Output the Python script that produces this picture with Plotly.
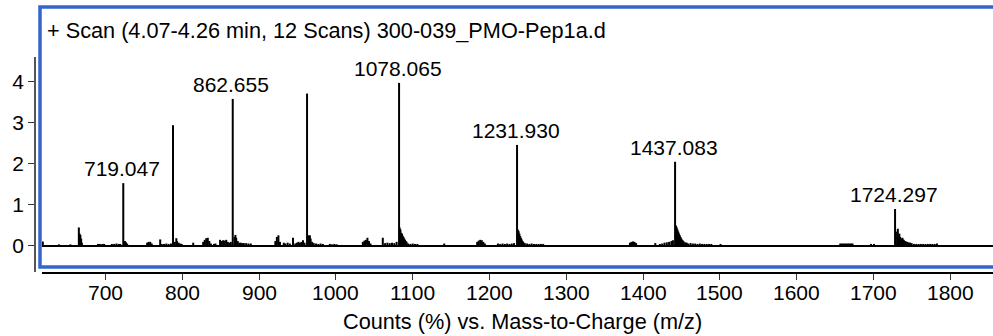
import plotly.graph_objects as go

# ---- data ----
major_mz = [722.9, 787.7, 865.5, 962.3, 1082.2, 1235.9, 1441.8, 1728.4]
major_int = [1.53, 2.94, 3.58, 3.71, 3.97, 2.46, 2.05, 0.90]

label_mz = [722.9, 865.5, 1082.2, 1235.9, 1441.8, 1728.4]
label_int = [1.53, 3.58, 3.97, 2.46, 2.05, 0.90]
label_text = ["719.047", "862.655", "1078.065", "1231.930", "1437.083", "1724.297"]

minor_mz = [
    618, 639, 654, 665, 666, 667, 668, 669,
    690, 692, 694, 696, 698, 708, 711, 714, 717, 719,
    725, 726, 727, 728, 754, 756, 758, 760, 771,
    773, 776, 779, 782, 785, 790, 792, 793, 795, 797, 799, 814,
    827, 829, 831, 833, 835, 837, 841, 843,
    849, 851, 853, 855, 857, 859, 861, 863,
    868, 869, 870, 872, 874, 876, 878, 880, 883, 886, 889,
    921, 923, 925, 927, 932, 934, 937, 940, 944,
    947, 949, 951, 953, 955, 957, 959,
    964, 965, 966, 967, 969, 971, 974, 977, 980, 983,
    992, 995, 998, 1001,
    1035, 1037, 1039, 1041, 1043, 1045, 1061,
    1064, 1067, 1070, 1073, 1076, 1079,
    1083, 1084, 1085, 1086, 1087, 1088, 1089, 1090, 1091, 1092,
    1094, 1097, 1100, 1103, 1106, 1141,
    1184, 1186, 1188, 1190, 1192, 1194,
    1211, 1214, 1217, 1220, 1223, 1226, 1229, 1232,
    1237, 1238, 1239, 1240, 1241, 1242, 1243, 1244,
    1246, 1249, 1252, 1255, 1258, 1261, 1264, 1267, 1270,
    1383, 1385, 1387, 1389, 1391, 1416,
    1422, 1425, 1428, 1431, 1434, 1437, 1439,
    1443, 1444, 1445, 1446, 1447, 1448, 1449, 1450, 1451, 1452, 1453, 1455, 1457,
    1459, 1462, 1465, 1468, 1471, 1474, 1477, 1480, 1483, 1486, 1489, 1501,
    1657, 1659, 1661, 1663, 1665, 1667, 1669, 1671, 1673, 1697, 1701,
    1731, 1732, 1733, 1734, 1735, 1737, 1738, 1739, 1740, 1742, 1744, 1746, 1748, 1750,
    1753, 1756, 1759, 1762, 1765, 1768, 1771, 1774, 1777, 1780, 1783,
]
minor_int = [
    0.11, 0.04, 0.04, 0.45, 0.30, 0.27, 0.18, 0.08,
    0.05, 0.05, 0.04, 0.05, 0.05, 0.05, 0.05, 0.06, 0.05, 0.05,
    0.12, 0.10, 0.07, 0.05, 0.08, 0.10, 0.10, 0.06, 0.16,
    0.05, 0.05, 0.06, 0.05, 0.06, 0.10, 0.19, 0.12, 0.08, 0.06, 0.05, 0.08,
    0.10, 0.15, 0.19, 0.20, 0.12, 0.06, 0.05, 0.06,
    0.15, 0.12, 0.14, 0.13, 0.15, 0.10, 0.08, 0.10,
    0.22, 0.27, 0.20, 0.12, 0.08, 0.08, 0.07, 0.07, 0.07, 0.06, 0.06,
    0.12, 0.22, 0.26, 0.10, 0.08, 0.06, 0.08, 0.06, 0.20,
    0.06, 0.08, 0.10, 0.08, 0.10, 0.14, 0.08,
    0.26, 0.24, 0.26, 0.18, 0.10, 0.07, 0.06, 0.05, 0.06, 0.05,
    0.05, 0.04, 0.05, 0.04,
    0.10, 0.13, 0.15, 0.20, 0.12, 0.06, 0.20,
    0.07, 0.08, 0.07, 0.08, 0.07, 0.10,
    0.45, 0.40, 0.32, 0.30, 0.25, 0.22, 0.18, 0.15, 0.12, 0.10,
    0.06, 0.05, 0.06, 0.05, 0.05, 0.06,
    0.10, 0.13, 0.15, 0.14, 0.10, 0.06,
    0.06, 0.05, 0.06, 0.05, 0.06, 0.05, 0.06, 0.07,
    0.40, 0.36, 0.30, 0.24, 0.20, 0.16, 0.12, 0.10,
    0.07, 0.06, 0.05, 0.06, 0.05, 0.05, 0.05, 0.05, 0.05,
    0.08, 0.10, 0.11, 0.10, 0.07, 0.07,
    0.05, 0.06, 0.08, 0.09, 0.10, 0.12, 0.14,
    0.50, 0.45, 0.40, 0.35, 0.30, 0.26, 0.22, 0.18, 0.15, 0.13, 0.11, 0.09, 0.08,
    0.06, 0.07, 0.06, 0.06, 0.05, 0.06, 0.05, 0.05, 0.05, 0.05, 0.05, 0.05,
    0.06, 0.06, 0.06, 0.06, 0.06, 0.06, 0.06, 0.06, 0.06, 0.05, 0.05,
    0.35, 0.42, 0.20, 0.30, 0.22, 0.18, 0.20, 0.16, 0.14, 0.12, 0.10, 0.09, 0.08, 0.07,
    0.05, 0.05, 0.05, 0.05, 0.05, 0.05, 0.05, 0.05, 0.05, 0.05, 0.06,
]

x_range = [617, 1856]
y_range = [-0.633, 4.6]
x_ticks = [700, 800, 900, 1000, 1100, 1200, 1300, 1400, 1500, 1600, 1700, 1800]
x_tick_labels = ["700", "800", "900", "1000", "1100", "1200", "1300", "1400",
                 "1500", "1600", "1700", "1800"]
y_ticks = [0, 1, 2, 3, 4]

title_text = "+ Scan (4.07-4.26 min, 12 Scans) 300-039_PMO-Pep1a.d"
x_title = "Counts (%) vs. Mass-to-Charge (m/z)"

# ---- build stick segments ----
all_mz = minor_mz + major_mz
all_int = minor_int + major_int
sx, sy = [], []
for m, v in zip(all_mz, all_int):
    sx += [m, m, None]
    sy += [0, v, None]

FONT = "Liberation Sans, Arial, sans-serif"
NUM_SIZE = 21
TXT_SIZE = 21.7
W, H = 993, 336
L, R, T, B = 35, 0, 57, 64
PW, PH = W - L - R, H - T - B


def px_x(p):
    return (p - L) / PW


def px_y(p):
    return (H - B - p) / PH


fig = go.Figure()
fig.add_trace(go.Scatter(x=x_range, y=[0, 0], mode="lines",
                         line=dict(color="black", width=2), hoverinfo="skip"))
fig.add_trace(go.Scatter(x=sx, y=sy, mode="lines",
                         line=dict(color="black", width=2), hoverinfo="skip"))

annotations = []
for m, v, t in zip(label_mz, label_int, label_text):
    annotations.append(dict(x=m, y=v, xref="x", yref="y", text=t, showarrow=False,
                            xanchor="center", yanchor="bottom", yshift=1, xshift=-1.5,
                            font=dict(family=FONT, size=NUM_SIZE, color="black")))
# x tick labels (placed on the x scale, fine-tuned vertically)
for tv, tl in zip(x_ticks, x_tick_labels):
    annotations.append(dict(x=tv, y=px_y(292), xref="x", yref="paper", text=tl,
                            showarrow=False, xanchor="center", yanchor="middle",
                            font=dict(family=FONT, size=NUM_SIZE, color="black")))
annotations.append(dict(x=px_x(45), y=px_y(30), xref="paper", yref="paper",
                        text=title_text, showarrow=False, xanchor="left", yanchor="middle",
                        font=dict(family=FONT, size=TXT_SIZE, color="black")))
annotations.append(dict(x=px_x(522), y=px_y(321), xref="paper", yref="paper",
                        text=x_title, showarrow=False, xanchor="center", yanchor="middle",
                        font=dict(family=FONT, size=TXT_SIZE, color="black")))

fig.update_layout(
    width=W, height=H,
    margin=dict(l=L, r=R, t=T, b=B, pad=0),
    paper_bgcolor="white", plot_bgcolor="white",
    showlegend=False,
    annotations=annotations,
    shapes=[dict(type="rect", xref="paper", yref="paper",
                 x0=px_x(40), x1=px_x(1100), y0=px_y(267), y1=px_y(7),
                 line=dict(color="#3366cc", width=3.5), fillcolor="rgba(0,0,0,0)",
                 layer="above")],
    xaxis=dict(range=x_range, domain=[7 / PW, 1], tickvals=x_ticks,
               showticklabels=False,
               showgrid=False, zeroline=False, showline=True, linecolor="black",
               linewidth=1.5, ticks="outside", ticklen=6, tickcolor="#333"),
    yaxis=dict(range=y_range, tickvals=y_ticks, anchor="free", position=0,
               showgrid=False, zeroline=False, showline=True, linecolor="#555",
               linewidth=1.5, ticks="outside", ticklen=6, tickcolor="#333",
               tickfont=dict(family=FONT, size=NUM_SIZE, color="black")),
)

fig.write_html("out.html")
